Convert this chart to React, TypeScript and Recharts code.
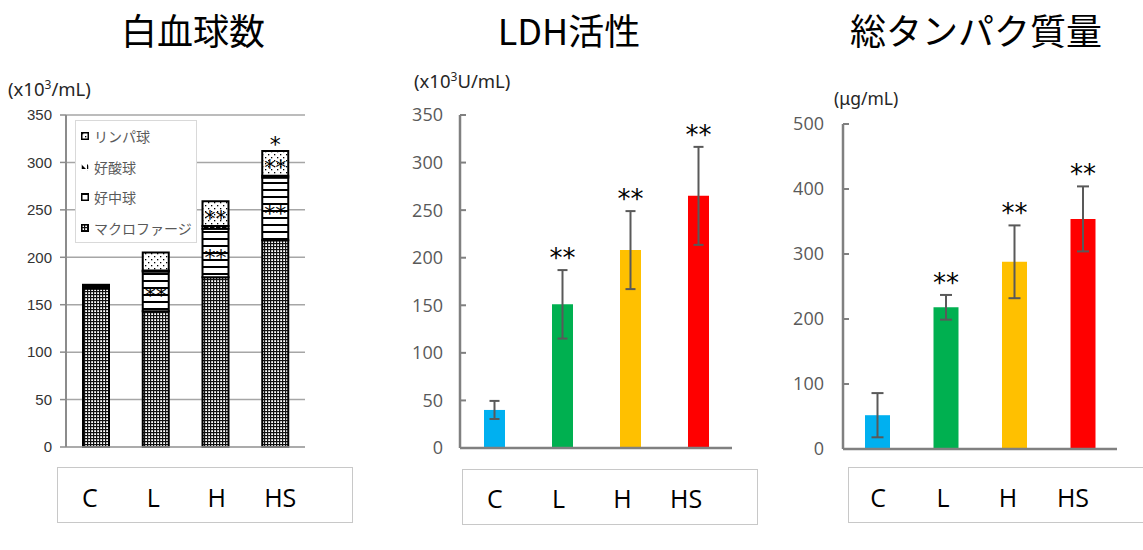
import React from "react";
import { BarChart, Bar, XAxis, YAxis, CartesianGrid, Legend, LabelList, ErrorBar, Cell } from "recharts";

const groups = ["C", "L", "H", "HS"];

// 白血球数 (x10^3/mL), stacked from the bottom
const macrophage = [167, 143, 179, 218];
const neutrophil = [2, 42, 51, 66];
const eosinophil = [1, 1, 3, 2];
const lymphocyte = [1, 19, 26, 26];
const neutroSig = ["", "**", "**", "**"];
const lymphSig = ["", "", "**", "**"];
const eosSig = ["", "", "", "*"];
const wbcTicks = [0, 50, 100, 150, 200, 250, 300, 350];
const legendOrder = ["リンパ球", "好酸球", "好中球", "マクロファージ"];

// LDH活性 (x10^3 U/mL)
const ldhMean = [40, 151, 208, 265];
const ldhErr = [9.5, 36, 41, 51.5];
const ldhSig = ["", "**", "**", "**"];
const ldhTicks = [0, 50, 100, 150, 200, 250, 300, 350];

// 総タンパク質量 (μg/mL)
const protMean = [52, 218, 288, 354];
const protErr = [34, 19, 56, 50];
const protSig = ["", "**", "**", "**"];
const protTicks = [0, 100, 200, 300, 400, 500];

const barColors = ["#00B0F0", "#00B050", "#FFC000", "#FF0000"];

const wbcData = groups.map((name, i) => ({
  name,
  macro: macrophage[i],
  neutro: neutrophil[i],
  eos: eosinophil[i],
  lymph: lymphocyte[i],
  neutroSig: neutroSig[i],
  lymphSig: lymphSig[i],
  eosSig: eosSig[i],
}));
const ldhData = groups.map((name, i) => ({ name, mean: ldhMean[i], err: ldhErr[i], sig: ldhSig[i] }));
const protData = groups.map((name, i) => ({ name, mean: protMean[i], err: protErr[i], sig: protSig[i] }));

const CatTick = (props: any) => {
  const { x, y, payload, dy } = props;
  return (
    <text x={x} y={y + dy} textAnchor="middle" dominantBaseline="central" fontSize={25} fontFamily="Open Sans" fill="#000">
      {payload.value}
    </text>
  );
};

const box = (p: any) => p.viewBox || p;

// star label in the middle of a stacked segment
const midStar = (props: any) => {
  const { value } = props;
  if (!value) return null;
  const { x, y, width, height } = box(props);
  return (
    <text x={x + width / 2} y={y + height / 2 + 12} textAnchor="middle" fontSize={22} fontFamily="DejaVu Sans" fill="#000">
      {value}
    </text>
  );
};

const topStar = (props: any) => {
  const { value } = props;
  if (!value) return null;
  const { x, y, width } = box(props);
  return (
    <text x={x + width / 2} y={y + 1} textAnchor="middle" fontSize={22} fontFamily="DejaVu Sans" fill="#000">
      {value}
    </text>
  );
};

// stars above the error bar cap
const errStar = (means: number[], errs: number[]) => (props: any) => {
  const { value, index } = props;
  if (!value) return null;
  const { x, y, width, height } = box(props);
  const top = y - errs[index] * (height / means[index]);
  return (
    <text x={x + width / 2} y={top - 3} textAnchor="middle" fontSize={26} fontFamily="DejaVu Sans" fill="#000">
      {value}
    </text>
  );
};

const WbcLegend = ({ payload }: any) => {
  const items = [...(payload || [])].sort((a, b) => legendOrder.indexOf(a.value) - legendOrder.indexOf(b.value));
  return (
    <div style={{ width: 122, height: 123, background: "#fff", border: "1px solid #d9d9d9", boxSizing: "border-box" }}>
      {items.map((it: any) => (
        <div key={it.value} style={{ height: 30.5, display: "flex", alignItems: "center", paddingLeft: 5 }}>
          <svg width={8} height={8}>
            <rect x={0.75} y={0.75} width={6.5} height={6.5} fill={it.color} stroke={it.dataKey === "eos" ? "none" : "#000"} strokeWidth={1.5} />
          </svg>
          <span style={{ marginLeft: 5, fontSize: 14, color: "#595959", fontFamily: "Noto Sans CJK JP", whiteSpace: "nowrap" }}>{it.value}</span>
        </div>
      ))}
    </div>
  );
};

const title = (text: string, cx: number) => (
  <div style={{ position: "absolute", left: cx - 150, top: 11, width: 300, textAlign: "center", fontSize: 36, lineHeight: "36px", fontFamily: "Noto Sans CJK JP", color: "#000" }}>
    {text}
  </div>
);

const catBox = (left: number, top: number, width: number) => (
  <div style={{ position: "absolute", left, top, width, height: 56, border: "1px solid #c8c8c8", boxSizing: "border-box", background: "#fff" }} />
);

export default function App() {
  return (
    <div style={{ position: "absolute", left: 0, top: 0, width: 1143, height: 550, overflow: "hidden", background: "#fff", fontFamily: "Noto Sans" }}>
      {title("白血球数", 193)}
      {title("LDH活性", 569)}
      {title("総タンパク質量", 976)}

      <div style={{ position: "absolute", left: 8, top: 76, fontSize: 18.5, color: "#262626", whiteSpace: "nowrap" }}>
        (x10<sup style={{ fontSize: 12 }}>3</sup>/mL)
      </div>
      <div style={{ position: "absolute", left: 414, top: 68, fontSize: 18.5, color: "#262626", whiteSpace: "nowrap" }}>
        (x10<sup style={{ fontSize: 12 }}>3</sup>U/mL)
      </div>
      <div style={{ position: "absolute", left: 834, top: 86, fontSize: 17.5, color: "#262626", whiteSpace: "nowrap" }}>(μg/mL)</div>

      {catBox(57, 467, 296)}
      {catBox(462, 469, 296)}
      {catBox(848, 467, 310)}

      <div style={{ position: "absolute", left: 0, top: 0 }}>
        <BarChart width={380} height={550} data={wbcData} margin={{ top: 115, right: 75, left: 6, bottom: 42 }}>
          <defs>
            <pattern id="pMacro" width={3} height={3} patternUnits="userSpaceOnUse">
              <rect width={3} height={3} fill="#fff" />
              <rect width={3} height={1.2} fill="#111" />
              <rect width={1.2} height={3} fill="#111" />
            </pattern>
            <pattern id="pNeutro" width={4} height={7} patternUnits="userSpaceOnUse">
              <rect width={4} height={7} fill="#fff" />
              <rect width={4} height={2} fill="#000" />
            </pattern>
            <pattern id="pEos" width={6} height={6} patternUnits="userSpaceOnUse">
              <rect width={6} height={6} fill="#fff" />
              <path d="M0,1 L0,6 L5,6 Z" fill="#000" />
            </pattern>
            <pattern id="pLymph" width={6} height={6} patternUnits="userSpaceOnUse">
              <rect width={6} height={6} fill="#fff" />
              <rect x={1} y={1} width={1.3} height={1.3} fill="#000" />
              <rect x={4} y={4} width={1.3} height={1.3} fill="#000" />
            </pattern>
          </defs>
          <CartesianGrid vertical={false} stroke="#a6a6a6" strokeWidth={1.5} />
          <XAxis dataKey="name" height={1} tick={false} tickLine={false} axisLine={{ stroke: "#a6a6a6", strokeWidth: 1.5 }} />
          <XAxis xAxisId="lbl" dataKey="name" height={60} axisLine={false} tickLine={false} tickSize={0} tickMargin={0}
            padding={{ left: -8, right: -7 }} interval={0} tick={(p: any) => <CatTick {...p} dy={49} />} />
          <YAxis domain={[0, 350]} ticks={wbcTicks} interval={0} width={60}
            tick={{ fill: "#333", fontSize: 15, fontFamily: "Liberation Sans" }}
            axisLine={{ stroke: "#8c8c8c", strokeWidth: 2 }} tickLine={{ stroke: "#8c8c8c", strokeWidth: 1.5 }} tickSize={6} tickMargin={8} />
          <Legend layout="horizontal" verticalAlign="middle" align="center"
            wrapperStyle={{ left: 75, top: 120, width: 122, height: 123 }} content={(p: any) => <WbcLegend {...p} />} />
          <Bar dataKey="macro" name="マクロファージ" stackId="w" fill="url(#pMacro)" stroke="#000" strokeWidth={2} barSize={26} isAnimationActive={false} />
          <Bar dataKey="neutro" name="好中球" stackId="w" fill="url(#pNeutro)" stroke="#000" strokeWidth={2} barSize={26} isAnimationActive={false}>
            <LabelList dataKey="neutroSig" content={midStar} />
          </Bar>
          <Bar dataKey="eos" name="好酸球" stackId="w" fill="url(#pEos)" stroke="#000" strokeWidth={2} barSize={26} isAnimationActive={false} />
          <Bar dataKey="lymph" name="リンパ球" stackId="w" fill="url(#pLymph)" stroke="#000" strokeWidth={2} barSize={26} isAnimationActive={false}>
            <LabelList dataKey="lymphSig" content={midStar} />
            <LabelList dataKey="eosSig" content={topStar} />
          </Bar>
        </BarChart>
      </div>

      <div style={{ position: "absolute", left: 380, top: 0 }}>
        <BarChart width={400} height={550} data={ldhData} margin={{ top: 115, right: 48, left: 10, bottom: 41 }}>
          <XAxis dataKey="name" height={1} tick={false} tickLine={false} axisLine={{ stroke: "#808080", strokeWidth: 2.5 }} />
          <XAxis xAxisId="lbl" dataKey="name" height={60} axisLine={false} tickLine={false} tickSize={0} tickMargin={0}
            padding={{ left: 3, right: 14 }} interval={0} tick={(p: any) => <CatTick {...p} dy={49} />} />
          <YAxis domain={[0, 350]} ticks={ldhTicks} interval={0} width={70}
            tick={{ fill: "#595959", fontSize: 18, fontFamily: "Open Sans" }}
            axisLine={{ stroke: "#808080", strokeWidth: 2.5 }} tickLine={{ stroke: "#808080", strokeWidth: 2 }} tickSize={-6} tickMargin={23} />
          <Bar dataKey="mean" barSize={21} isAnimationActive={false}>
            {ldhMean.map((_, i) => <Cell key={i} fill={barColors[i]} />)}
            <ErrorBar dataKey="err" width={5} stroke="#595959" strokeWidth={2} direction="y" isAnimationActive={false} />
            <LabelList dataKey="sig" content={errStar(ldhMean, ldhErr)} />
          </Bar>
        </BarChart>
      </div>

      <div style={{ position: "absolute", left: 780, top: 0 }}>
        <BarChart width={363} height={550} data={protData} margin={{ top: 124, right: 26, left: 8, bottom: 40 }}>
          <XAxis dataKey="name" height={1} tick={false} tickLine={false} axisLine={{ stroke: "#808080", strokeWidth: 2.5 }} />
          <XAxis xAxisId="lbl" dataKey="name" height={60} axisLine={false} tickLine={false} tickSize={0} tickMargin={0}
            padding={{ left: 2.5, right: 11.5 }} interval={0} tick={(p: any) => <CatTick {...p} dy={47} />} />
          <YAxis domain={[0, 500]} ticks={protTicks} interval={0} width={55}
            tick={{ fill: "#595959", fontSize: 18, fontFamily: "Open Sans" }}
            axisLine={{ stroke: "#808080", strokeWidth: 2.5 }} tickLine={{ stroke: "#808080", strokeWidth: 2 }} tickSize={-6} tickMargin={25} />
          <Bar dataKey="mean" barSize={25} isAnimationActive={false}>
            {protMean.map((_, i) => <Cell key={i} fill={barColors[i]} />)}
            <ErrorBar dataKey="err" width={6} stroke="#595959" strokeWidth={2} direction="y" isAnimationActive={false} />
            <LabelList dataKey="sig" content={errStar(protMean, protErr)} />
          </Bar>
        </BarChart>
      </div>
    </div>
  );
}
